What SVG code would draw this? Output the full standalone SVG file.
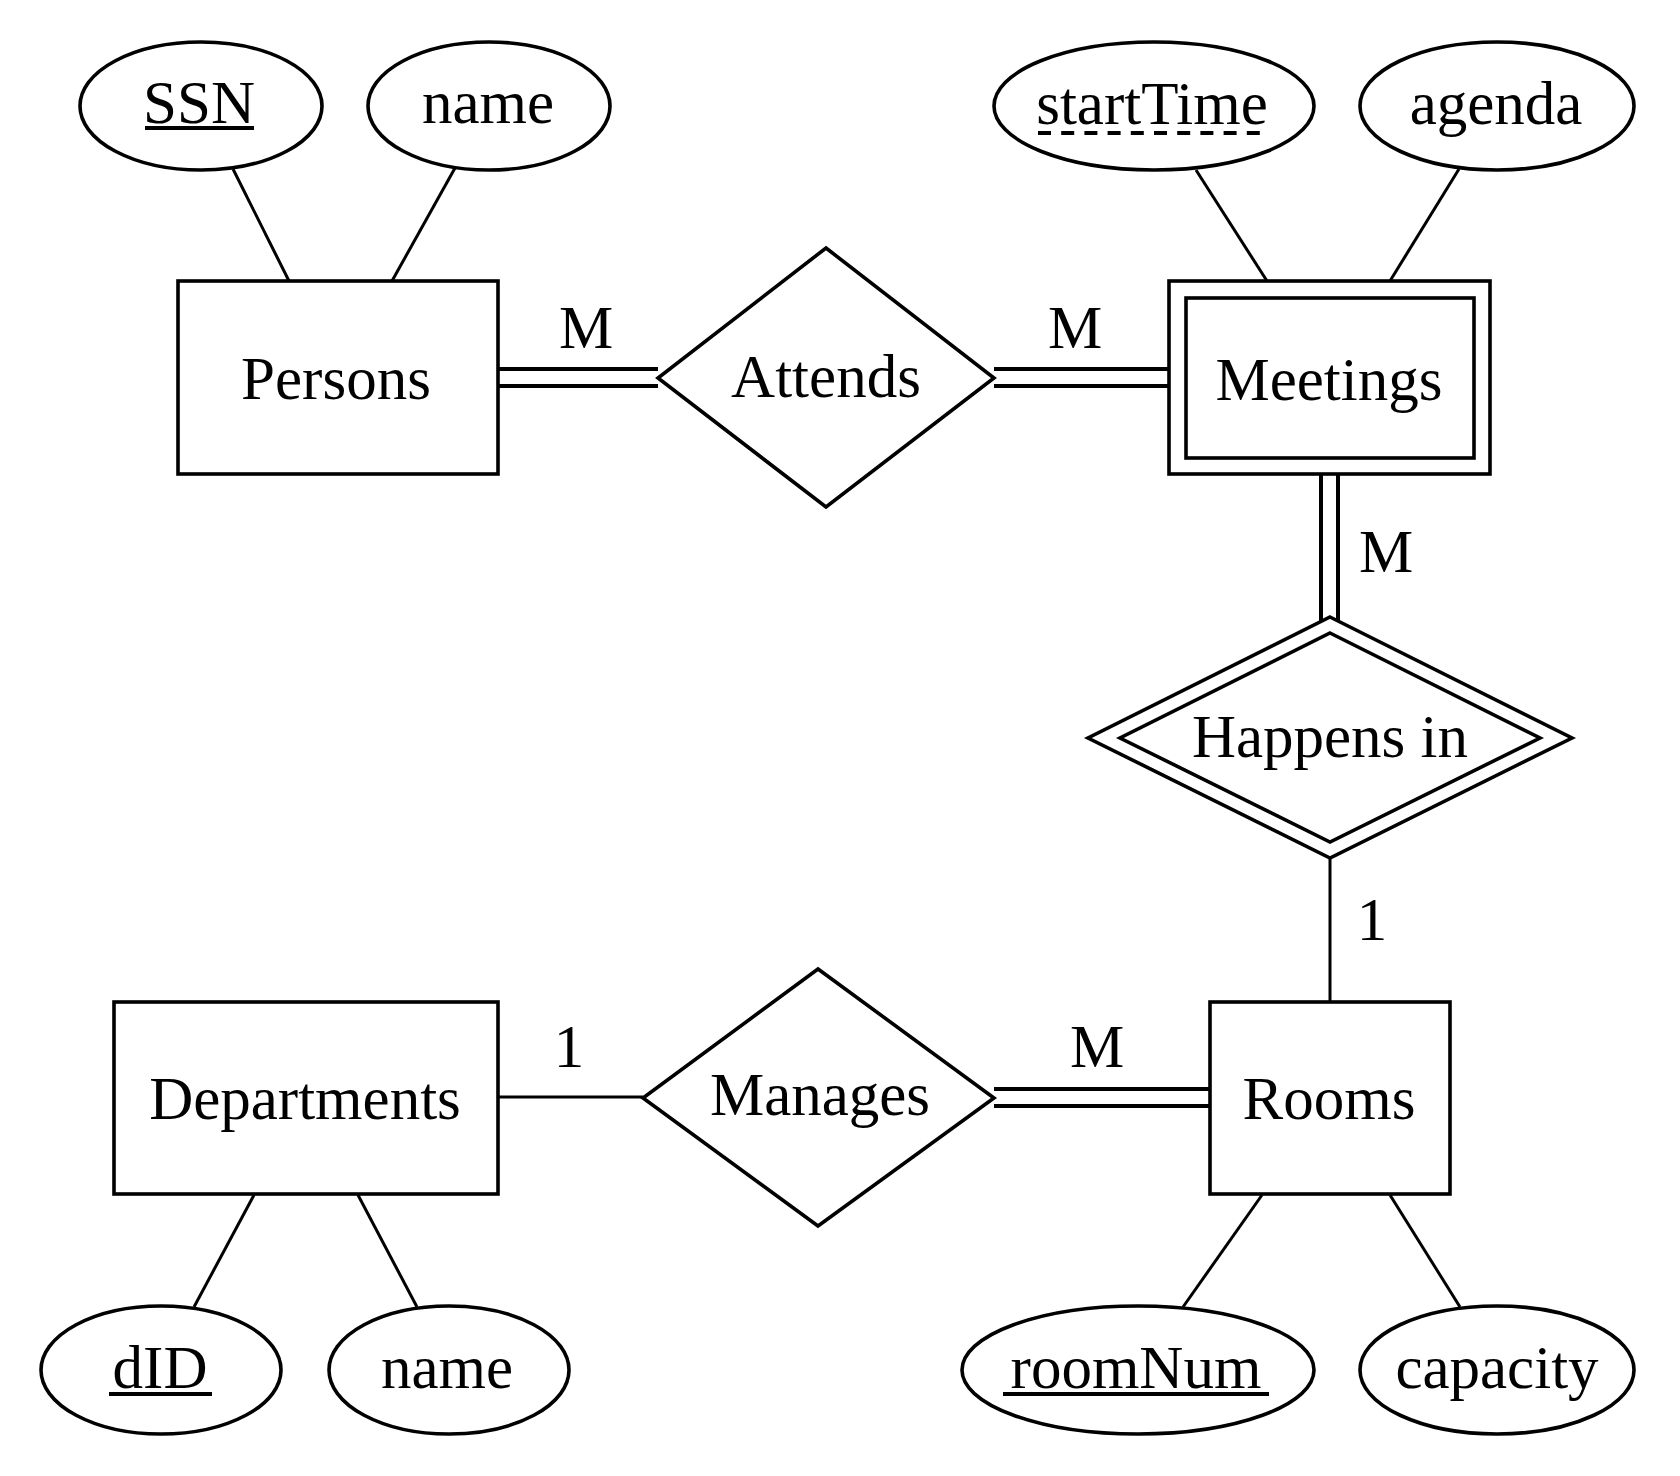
<svg xmlns="http://www.w3.org/2000/svg" width="1680" height="1476" viewBox="0 0 1680 1476">
<style>
.s{fill:#fff;stroke:#000;stroke-width:3.6}
.n{fill:none;stroke:#000;stroke-width:3.6}
.c{stroke:#000;stroke-width:3;fill:none}
.d{stroke:#000;stroke-width:4;fill:none}
.u{stroke:#000;stroke-width:3.8}
text{font-family:"Liberation Serif","DejaVu Serif",serif;font-size:61px;text-anchor:middle;fill:#000}
</style>
<rect width="1680" height="1476" fill="#fff"/>
<g id="connectors">
<line class="c" x1="233" y1="169" x2="289" y2="281"/>
<line class="c" x1="455" y1="168" x2="392" y2="281"/>
<line class="c" x1="1196" y1="170" x2="1267" y2="281"/>
<line class="c" x1="1459" y1="169" x2="1390" y2="281"/>
<line class="d" x1="498" y1="369" x2="658" y2="369"/>
<line class="d" x1="498" y1="386" x2="658" y2="386"/>
<line class="d" x1="994" y1="369" x2="1169" y2="369"/>
<line class="d" x1="994" y1="386" x2="1169" y2="386"/>
<line class="d" x1="1321" y1="474" x2="1321" y2="622"/>
<line class="d" x1="1338" y1="474" x2="1338" y2="622"/>
<line class="c" x1="1330" y1="858" x2="1330" y2="1002"/>
<line class="c" x1="498" y1="1097" x2="643" y2="1097"/>
<line class="d" x1="994" y1="1089" x2="1210" y2="1089"/>
<line class="d" x1="994" y1="1106" x2="1210" y2="1106"/>
<line class="c" x1="254" y1="1195" x2="194" y2="1307"/>
<line class="c" x1="358" y1="1195" x2="417" y2="1307"/>
<line class="c" x1="1262" y1="1195" x2="1183" y2="1307"/>
<line class="c" x1="1390" y1="1195" x2="1460" y2="1307"/>
<text x="586" y="348">M</text>
<text x="1075" y="348">M</text>
<text x="1386" y="572">M</text>
<text x="1372" y="940">1</text>
<text x="569" y="1067">1</text>
<text x="1097" y="1067">M</text>
</g>
<g id="attr-ssn">
<ellipse class="s" cx="201" cy="106" rx="121" ry="64"/>
<text x="199" y="123">SSN</text>
<line class="u" x1="145" y1="128" x2="254" y2="128"/>
</g>
<g id="attr-person-name">
<ellipse class="s" cx="489" cy="106" rx="121" ry="64"/>
<text x="488" y="123">name</text>
</g>
<g id="attr-starttime">
<ellipse class="s" cx="1154" cy="106" rx="160" ry="64"/>
<text x="1152" y="124">startTime</text>
<line class="u" x1="1038" y1="133" x2="1268" y2="133" stroke-width="4" stroke-dasharray="13 10.2"/>
</g>
<g id="attr-agenda">
<ellipse class="s" cx="1497" cy="106" rx="137" ry="64"/>
<text x="1496" y="124">agenda</text>
</g>
<g id="persons">
<rect class="s" x="178" y="281" width="320" height="193"/>
<text x="336" y="399">Persons</text>
</g>
<g id="attends">
<polygon class="s" points="826,248 994,378 826,507 658,378"/>
<text x="826" y="397">Attends</text>
</g>
<g id="meetings">
<rect class="s" x="1169" y="281" width="321" height="193"/>
<rect class="n" x="1186" y="298" width="288" height="160"/>
<text x="1329" y="400">Meetings</text>
</g>
<g id="happens-in">
<polygon class="s" points="1330,617 1572,738 1330,858 1088,738"/>
<polygon class="n" points="1330,633 1540,738 1330,842 1120,738"/>
<text x="1330" y="757">Happens in</text>
</g>
<g id="rooms">
<rect class="s" x="1210" y="1002" width="240" height="192"/>
<text x="1329" y="1119">Rooms</text>
</g>
<g id="manages">
<polygon class="s" points="818,969 994,1098 818,1226 643,1098"/>
<text x="820" y="1115">Manages</text>
</g>
<g id="departments">
<rect class="s" x="114" y="1002" width="384" height="192"/>
<text x="305" y="1119">Departments</text>
</g>
<g id="attr-did">
<ellipse class="s" cx="161" cy="1370" rx="120" ry="64"/>
<text x="160" y="1388">dID</text>
<line class="u" x1="109" y1="1394" x2="212" y2="1394"/>
</g>
<g id="attr-dept-name">
<ellipse class="s" cx="449" cy="1370" rx="120" ry="64"/>
<text x="447" y="1388">name</text>
</g>
<g id="attr-roomnum">
<ellipse class="s" cx="1138" cy="1370" rx="176" ry="64"/>
<text x="1136" y="1388">roomNum</text>
<line class="u" x1="1003" y1="1394" x2="1269" y2="1394"/>
</g>
<g id="attr-capacity">
<ellipse class="s" cx="1497" cy="1370" rx="137" ry="64"/>
<text x="1497" y="1388">capacity</text>
</g>
</svg>
